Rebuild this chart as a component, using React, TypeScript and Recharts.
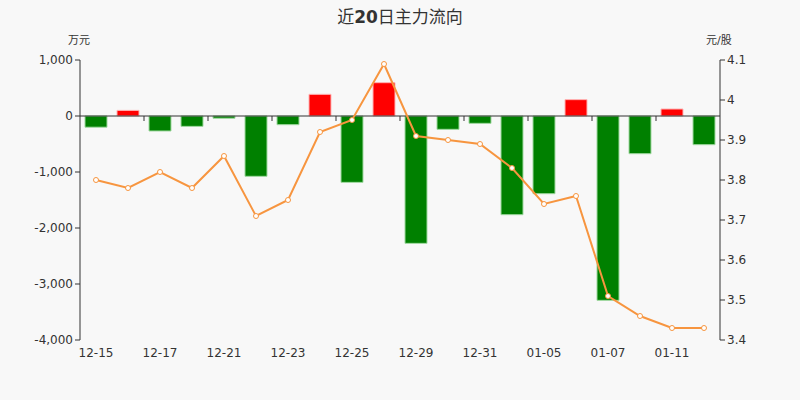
import { ComposedChart, Bar, Line, XAxis, YAxis, Cell, ReferenceLine } from 'recharts';

const dates = [
  '12-15', '12-16', '12-17', '12-18', '12-21', '12-22', '12-23', '12-24', '12-25', '12-28',
  '12-29', '12-30', '12-31', '01-04', '01-05', '01-06', '01-07', '01-08', '01-11', '01-12',
];
// 主力净流入 (万元)
const flows = [
  -200, 100, -268, -185, -40, -1077, -155, 387, -1185, 595,
  -2274, -238, -131, -1762, -1387, 292, -3292, -673, 125, -512,
];
// 收盘价 (元/股)
const prices = [
  3.8, 3.78, 3.82, 3.78, 3.86, 3.71, 3.75, 3.92, 3.95, 4.09,
  3.91, 3.9, 3.89, 3.83, 3.74, 3.76, 3.51, 3.46, 3.43, 3.43,
];
const flowTicks = [-4000, -3000, -2000, -1000, 0, 1000];
const priceTicks = [3.4, 3.5, 3.6, 3.7, 3.8, 3.9, 4.0, 4.1];

const font = '"DejaVu Sans", "Noto Sans CJK SC", sans-serif';
const textColor = '#333';

const data = dates.map((d, i) => ({ date: d, flow: flows[i], price: prices[i] }));

// zero line with small ticks between every second category
function ZeroAxis(props: any) {
  const { x1, x2, y1 } = props;
  const band = (x2 - x1) / dates.length;
  const marks = [];
  for (let k = 2; k < dates.length; k += 2) {
    const x = x1 + band * k;
    marks.push(<line key={k} x1={x} x2={x} y1={y1} y2={y1 + 5} stroke={textColor} strokeWidth={1} />);
  }
  return (
    <g>
      <line x1={x1} x2={x2} y1={y1} y2={y1} stroke={textColor} strokeWidth={1} />
      {marks}
    </g>
  );
}

export default function App() {
  return (
    <div style={{ position: 'fixed', top: 0, left: 0, width: 800, height: 400, background: '#f8f8f8', fontFamily: font }}>
      <div style={{ position: 'absolute', top: 3, width: 800, textAlign: 'center', fontSize: 17, color: textColor }}>
        近<b>20</b>日主力流向
      </div>
      <div style={{ position: 'absolute', top: 31, left: 68, fontSize: 11, color: textColor }}>万元</div>
      <div style={{ position: 'absolute', top: 31, left: 706, fontSize: 11, color: textColor }}>元/股</div>
      <ComposedChart width={800} height={400} data={data} margin={{ top: 60, right: 20, bottom: 40, left: 20 }}>
        <XAxis
          dataKey="date"
          interval={1}
          axisLine={false}
          tickLine={false}
          tick={{ fill: textColor, fontSize: 12, fontFamily: font }}
          height={20}
        />
        <YAxis
          yAxisId="flow"
          domain={[-4000, 1000]}
          ticks={flowTicks}
          width={60}
          tickSize={5}
          stroke={textColor}
          tick={{ fill: textColor, fontSize: 12, fontFamily: font }}
          tickFormatter={(v: number) => v.toLocaleString('en-US')}
        />
        <YAxis
          yAxisId="price"
          orientation="right"
          domain={[3.4, 4.1]}
          ticks={priceTicks}
          width={60}
          tickSize={5}
          stroke={textColor}
          tick={{ fill: textColor, fontSize: 12, fontFamily: font }}
          tickFormatter={(v: number) => String(Number(v.toFixed(1)))}
        />
        <Bar yAxisId="flow" dataKey="flow" barSize={22} isAnimationActive={false}>
          {data.map((d, i) => (
            <Cell
              key={i}
              fill={d.flow >= 0 ? '#ff0000' : '#008000'}
              stroke={d.flow >= 0 ? '#ffb3b3' : '#9fd89f'}
              strokeWidth={1}
            />
          ))}
        </Bar>
        <ReferenceLine yAxisId="flow" y={0} shape={ZeroAxis} />
        <Line
          yAxisId="price"
          dataKey="price"
          type="linear"
          stroke="#f7953f"
          strokeWidth={2}
          dot={{ r: 2.5, fill: '#ffffff', stroke: '#f7953f', strokeWidth: 1 }}
          isAnimationActive={false}
        />
      </ComposedChart>
    </div>
  );
}
